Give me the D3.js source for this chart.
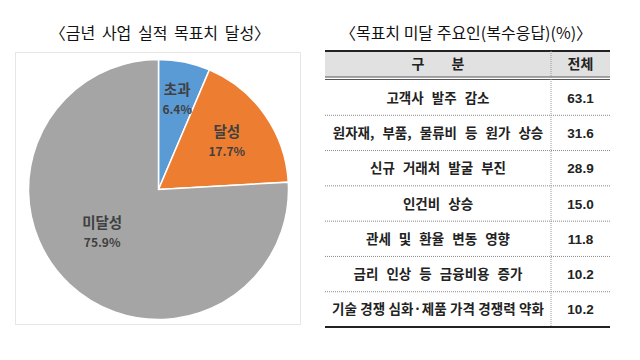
<!DOCTYPE html>
<html><head><meta charset="utf-8">
<script src="https://cdn.jsdelivr.net/npm/d3@7"></script>
<style>body{margin:0;background:#fff}svg{display:block}</style>
</head><body>
<svg id="c" width="640" height="360"></svg>
<script>
const pieTitle = "〈금년 사업 실적 목표치 달성〉";
const pieLabels = ["초과", "달성", "미달성"];
const pieValues = [6.4, 17.7, 75.9];
const pieColors = ["#5b9bd5", "#ed7d31", "#a5a5a5"];

const tableTitle = "〈목표치 미달 주요인(복수응답)(%)〉";
const headerLabels = ["구 분", "전체"];
const reasons = ["고객사 발주 감소", "원자재, 부품, 물류비 등 원가 상승", "신규 거래처 발굴 부진", "인건비 상승", "관세 및 환율 변동 영향", "금리 인상 등 금융비용 증가", "기술 경쟁 심화·제품 가격 경쟁력 약화"];
const shares = [63.1, 31.6, 28.9, 15.0, 11.8, 10.2, 10.2];

const svg = d3.select("#c");
const font = "'Noto Sans CJK KR','Malgun Gothic',sans-serif";

// Left: pie
svg.append("text").attr("x", 160).attr("y", 39).attr("text-anchor", "middle")
  .attr("font-family", font).attr("font-size", 16).attr("word-spacing", 3).attr("fill", "#111").text(pieTitle);
svg.append("rect").attr("x", 15.5).attr("y", 52.5).attr("width", 285).attr("height", 272)
  .attr("fill", "#fff").attr("stroke", "#e6e6e6");

const cx = 158.5, cy = 189.5, R = 130;
const pie = d3.pie().sort(null).value(d => d)(pieValues);
const arc = d3.arc().innerRadius(0).outerRadius(R);
const g = svg.append("g").attr("transform", `translate(${cx},${cy})`);
g.selectAll("path").data(pie).join("path").attr("d", arc)
  .attr("fill", (d, i) => pieColors[i]).attr("stroke", "#fff").attr("stroke-width", 1.5);
// label placement: radius fraction and angular shift (degrees) per slice
const labelRadius = [0.72, 0.65, 0.54];
const labelShift = [0, -1, 10];
pie.forEach((d, i) => {
  const a = (d.startAngle + d.endAngle) / 2 + labelShift[i] * Math.PI / 180;
  const [x, y] = d3.pointRadial(a, R * labelRadius[i]);
  const t = g.append("text").attr("text-anchor", "middle").attr("font-family", font)
    .attr("font-weight", "bold").attr("fill", "#404040");
  t.append("tspan").attr("x", x).attr("y", y - 3).attr("font-size", 14.5).text(pieLabels[i]);
  t.append("tspan").attr("x", x).attr("y", y + 16).attr("font-size", 12).text(pieValues[i].toFixed(1) + "%");
});

// Right: table
const tx0 = 325, tx1 = 610, colX = 551;
svg.append("text").attr("x", 466).attr("y", 39).attr("text-anchor", "middle")
  .attr("font-family", font).attr("font-size", 16).attr("fill", "#111").text(tableTitle);

const hTop = 51, hBot = 77;
svg.append("rect").attr("x", tx0).attr("y", hTop).attr("width", tx1 - tx0).attr("height", hBot - hTop).attr("fill", "#e1e1e1");
svg.append("line").attr("x1", tx0).attr("x2", tx1).attr("y1", hTop).attr("y2", hTop).attr("stroke", "#222").attr("stroke-width", 2);
svg.append("line").attr("x1", tx0).attr("x2", tx1).attr("y1", hBot).attr("y2", hBot).attr("stroke", "#555").attr("stroke-width", 1);
svg.append("line").attr("x1", tx0).attr("x2", tx1).attr("y1", hBot + 2.5).attr("y2", hBot + 2.5).attr("stroke", "#555").attr("stroke-width", 1);

const rowTop = 80, rowBot = 327;
const y = d3.scaleBand().domain(reasons).range([rowTop, rowBot]);
const hdrY = (hTop + hBot) / 2 + 5;
svg.append("text").attr("x", (tx0 + colX) / 2).attr("y", hdrY).attr("text-anchor", "middle")
  .attr("word-spacing", 24)
  .attr("font-family", font).attr("font-weight", "bold").attr("font-size", 14).attr("fill", "#222").text(headerLabels[0]);
svg.append("text").attr("x", (colX + tx1) / 2).attr("y", hdrY).attr("text-anchor", "middle")
  .attr("font-family", font).attr("font-weight", "bold").attr("font-size", 14).attr("fill", "#222").text(headerLabels[1]);

const maxW = 212;
reasons.forEach((r, i) => {
  const yc = y(r) + y.bandwidth() / 2 + 5;
  const t = svg.append("text").attr("x", (tx0 + colX) / 2).attr("y", yc).attr("text-anchor", "middle")
    .attr("font-family", font).attr("font-weight", "bold").attr("font-size", 13.5)
    .attr("word-spacing", 5).attr("fill", "#222").text(r);
  const w = t.node().getComputedTextLength();
  if (w > maxW) t.attr("word-spacing", 0).attr("textLength", maxW).attr("lengthAdjust", "spacing");
  svg.append("text").attr("x", (colX + tx1) / 2).attr("y", yc).attr("text-anchor", "middle")
    .attr("font-family", "'Liberation Sans',Arial,sans-serif").attr("font-weight", "bold").attr("font-size", 13.5).attr("fill", "#222").text(shares[i].toFixed(1));
  if (i < reasons.length - 1) {
    const yl = y(r) + y.bandwidth();
    svg.append("line").attr("x1", tx0).attr("x2", tx1).attr("y1", yl).attr("y2", yl)
      .attr("stroke", "#888").attr("stroke-width", 1).attr("stroke-dasharray", "1,1");
  }
});
svg.append("line").attr("x1", colX).attr("x2", colX).attr("y1", hTop).attr("y2", rowBot)
  .attr("stroke", "#999").attr("stroke-width", 1).attr("stroke-dasharray", "1,1");
svg.append("line").attr("x1", tx0).attr("x2", tx1).attr("y1", rowBot).attr("y2", rowBot).attr("stroke", "#222").attr("stroke-width", 2);
</script>
</body></html>
